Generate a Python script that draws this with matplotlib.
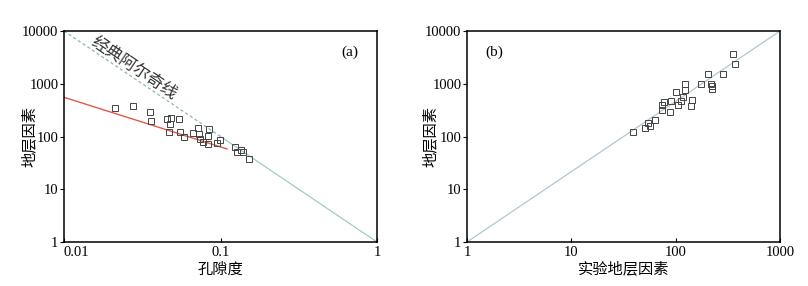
import matplotlib
matplotlib.use('Agg')
import matplotlib.pyplot as plt
import numpy as np

# Panel (a): porosity vs formation factor
porosity = [0.0213, 0.0278, 0.0352, 0.036, 0.0457, 0.048, 0.0473, 0.054, 0.0469,
            0.0555, 0.0582, 0.0664, 0.072, 0.073, 0.0745, 0.0775, 0.0826, 0.0826,
            0.0841, 0.0953, 0.099, 0.124, 0.128, 0.135, 0.140, 0.153]
ff_a = [352, 375, 288, 195, 218, 222, 171, 218, 122,
        122, 98, 117, 144, 113, 89, 77, 104, 71.5,
        141, 74.7, 86, 62.7, 51.8, 55.7, 51, 38]

# Archie line F = phi^-2, and the fitted line F = 7.3 * phi^-0.94
archie_dash_x = [0.01, 0.1]
archie_solid_x = [0.1, 1.0]
fit_x = [0.01, 0.11]
fit_a, fit_m = 7.3, 0.94

# Panel (b): measured vs predicted formation factor
ff_meas = [39.3, 51.2, 54, 57.2, 63.5, 74, 74, 78, 88.4, 91, 101.6, 106, 113.4,
           118.5, 124, 124, 140.5, 144.5, 174, 203, 218, 222, 222, 287, 357, 369]
ff_pred = [122, 146, 178, 161, 203, 315, 397, 452, 292, 472, 690, 402, 479,
           555, 991, 763, 375, 487, 978, 1511, 1005, 908, 786, 1554, 3620, 2340]
line_b_x = [1, 1000]
line_b_exp = 4.0 / 3.0

num_font = 'Liberation Serif'
cjk_font = ['Noto Sans CJK SC', 'DejaVu Sans']

fig = plt.figure(figsize=(8.08, 2.86), dpi=100)
ax1 = fig.add_axes([64 / 808, 44 / 286, 313 / 808, 211 / 286])
ax2 = fig.add_axes([467 / 808, 44 / 286, 313 / 808, 211 / 286])

# ---- panel (a)
ax1.plot(archie_dash_x, [x ** -2 for x in archie_dash_x], ls=(0, (2.5, 2)),
         color='#8fb5ad', lw=0.9)
ax1.plot(archie_solid_x, [x ** -2 for x in archie_solid_x], color='#a3cbc2', lw=0.9)
ax1.plot(fit_x, [fit_a * x ** -fit_m for x in fit_x], color='#e05a48', lw=1.0)
ax1.plot(porosity, ff_a, ls='none', marker='s', ms=4.5, mfc='none',
         mec='#444444', mew=0.7)
ax1.set_xscale('log')
ax1.set_yscale('log')
ax1.set_xlim(0.01, 1)
ax1.set_ylim(1, 10000)
ax1.set_xticks([0.01, 0.1, 1])
ax1.set_xticklabels(['0.01', '0.1', '1'])
ax1.text(0.028, 2000, '经典阿尔奇线', rotation=-34, ha='center', va='center',
         family=cjk_font, fontsize=12, color='#333333')
ax1.text(0.94, 0.9, '(a)', transform=ax1.transAxes, ha='right', va='center',
         family=num_font, fontsize=11)
ax1.set_xlabel('孔隙度', family=cjk_font, fontsize=11, labelpad=1)
ax1.get_xticklabels()[0].set_horizontalalignment('left')

# ---- panel (b)
ax2.plot(line_b_x, [x ** line_b_exp for x in line_b_x], color='#b3c6d3', lw=0.9)
ax2.plot(ff_meas, ff_pred, ls='none', marker='s', ms=4.5, mfc='none',
         mec='#444444', mew=0.7)
ax2.set_xscale('log')
ax2.set_yscale('log')
ax2.set_xlim(1, 1000)
ax2.set_ylim(1, 10000)
ax2.set_xticks([1, 10, 100, 1000])
ax2.set_xticklabels(['1', '10', '100', '1000'])
ax2.text(0.06, 0.9, '(b)', transform=ax2.transAxes, ha='left', va='center',
         family=num_font, fontsize=11)
ax2.set_xlabel('实验地层因素', family=cjk_font, fontsize=11, labelpad=1)

for ax in (ax1, ax2):
    ax.set_yticks([1, 10, 100, 1000, 10000])
    ax.set_yticklabels(['1', '10', '100', '1000', '10000'])
    ax.minorticks_off()
    ax.set_ylabel('地层因素', family=cjk_font, fontsize=11)
    ax.tick_params(axis='y', direction='out', length=3, width=0.8, pad=1)
    ax.tick_params(axis='x', direction='in', length=3, width=0.8, pad=3)
    for lab in ax.get_xticklabels() + ax.get_yticklabels():
        lab.set_family(num_font)
        lab.set_fontsize(10.5)
    for sp in ax.spines.values():
        sp.set_linewidth(1.1)

# Y labels sit close to the tick labels, as in the source figure
ax1.yaxis.set_label_coords(-0.085, 0.5)
ax2.yaxis.set_label_coords(-0.09, 0.5)

fig.savefig('out.png', dpi=100)
